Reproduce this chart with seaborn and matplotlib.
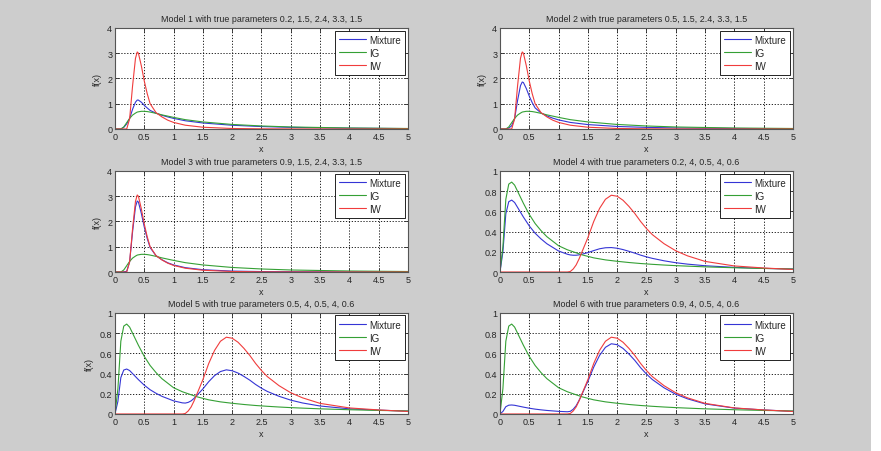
import matplotlib
matplotlib.use("Agg")
import matplotlib.pyplot as plt
from matplotlib.patches import Rectangle
from matplotlib.ticker import FormatStrFormatter
import seaborn as sns

# models 1-3: x grid and curves
x_a = [0, 0.1, 0.15, 0.2, 0.25, 0.3, 0.35, 0.38, 0.4, 0.45, 0.5, 0.55, 0.6, 0.7, 0.8, 0.9,
       1.0, 1.2, 1.5, 2.0, 2.5, 3.0, 3.5, 4.0, 4.5, 5.0]
ig_a = [0, 0, 0.08, 0.25, 0.42, 0.55, 0.63, 0.67, 0.68, 0.70, 0.70, 0.69, 0.67, 0.62, 0.56, 0.51,
        0.46, 0.37, 0.28, 0.18, 0.12, 0.08, 0.06, 0.04, 0.03, 0.02]
iw_a = [0, 0, 0, 0, 0.4, 1.7, 2.8, 3.05, 3.0, 2.5, 1.9, 1.4, 1.0, 0.65, 0.48, 0.35,
        0.26, 0.15, 0.07, 0.02, 0.007, 0.003, 0.001, 0, 0, 0]
mix_1 = [0, 0, 0.064, 0.2, 0.416, 0.78, 1.064, 1.146, 1.144, 1.06, 0.94, 0.832, 0.736, 0.626, 0.544, 0.478,
         0.42, 0.326, 0.238, 0.148, 0.097, 0.065, 0.048, 0.032, 0.024, 0.016]
mix_2 = [0, 0, 0.04, 0.125, 0.41, 1.125, 1.715, 1.86, 1.84, 1.6, 1.3, 1.045, 0.835, 0.635, 0.52, 0.43,
         0.36, 0.26, 0.175, 0.10, 0.064, 0.042, 0.03, 0.02, 0.015, 0.01]
mix_3 = [0, 0, 0.008, 0.025, 0.40, 1.585, 2.58, 2.81, 2.77, 2.32, 1.78, 1.33, 0.967, 0.647, 0.488, 0.366,
         0.28, 0.172, 0.091, 0.036, 0.018, 0.011, 0.007, 0.004, 0.003, 0.002]

# models 4-6
x_b = [0, 0.05, 0.1, 0.15, 0.2, 0.25, 0.3, 0.4, 0.5, 0.6, 0.7, 0.8, 1.0, 1.15, 1.2, 1.25, 1.3, 1.35, 1.4,
       1.5, 1.6, 1.7, 1.8, 1.9, 2.0, 2.1, 2.2, 2.3, 2.4, 2.5, 2.6, 2.8, 3.0, 3.2, 3.5, 4.0, 4.5, 5.0]
ig_b = [0, 0.25, 0.72, 0.87, 0.89, 0.86, 0.80, 0.68, 0.57, 0.48, 0.41, 0.35, 0.26, 0.22, 0.21, 0.20, 0.19, 0.18, 0.17,
        0.155, 0.14, 0.13, 0.12, 0.113, 0.106, 0.10, 0.094, 0.089, 0.084, 0.08, 0.076, 0.069, 0.063, 0.058, 0.051, 0.042, 0.035, 0.03]
iw_b = [0, 0, 0, 0, 0, 0, 0, 0, 0, 0, 0, 0, 0, 0, 0.005, 0.03, 0.07, 0.13, 0.2,
        0.34, 0.5, 0.63, 0.72, 0.76, 0.75, 0.71, 0.65, 0.58, 0.5, 0.43, 0.37, 0.28, 0.21, 0.16, 0.105, 0.06, 0.04, 0.025]
mix_4 = [0, 0.2, 0.576, 0.696, 0.712, 0.688, 0.64, 0.544, 0.456, 0.384, 0.328, 0.28, 0.208, 0.176, 0.169, 0.166, 0.166, 0.17, 0.176,
         0.192, 0.212, 0.23, 0.24, 0.242, 0.235, 0.222, 0.205, 0.187, 0.167, 0.15, 0.135, 0.111, 0.092, 0.078, 0.062, 0.046, 0.036, 0.029]
mix_5 = [0, 0.125, 0.36, 0.435, 0.445, 0.43, 0.40, 0.34, 0.285, 0.24, 0.205, 0.175, 0.13, 0.11, 0.108, 0.115, 0.13, 0.155, 0.185,
         0.248, 0.32, 0.38, 0.42, 0.437, 0.428, 0.405, 0.372, 0.335, 0.292, 0.255, 0.223, 0.175, 0.137, 0.109, 0.079, 0.051, 0.038, 0.028]
mix_6 = [0, 0.025, 0.072, 0.087, 0.089, 0.086, 0.08, 0.068, 0.057, 0.048, 0.041, 0.035, 0.026, 0.022, 0.026, 0.047, 0.082, 0.135, 0.197,
         0.322, 0.464, 0.58, 0.66, 0.695, 0.686, 0.649, 0.594, 0.531, 0.458, 0.395, 0.341, 0.259, 0.195, 0.15, 0.1, 0.058, 0.04, 0.026]

titles = ["Model 1 with true parameters 0.2, 1.5, 2.4, 3.3, 1.5",
          "Model 2 with true parameters 0.5, 1.5, 2.4, 3.3, 1.5",
          "Model 3 with true parameters 0.9, 1.5, 2.4, 3.3, 1.5",
          "Model 4 with true parameters 0.2, 4, 0.5, 4, 0.6",
          "Model 5 with true parameters 0.5, 4, 0.5, 4, 0.6",
          "Model 6 with true parameters 0.9, 4, 0.5, 4, 0.6"]
series_labels = ["Mixture", "IG", "IW"]
x_ticks = [0, 0.5, 1, 1.5, 2, 2.5, 3, 3.5, 4, 4.5, 5]

colors = ["#3535d5", "#35a035", "#f03c3c"]

sns.set_style("ticks")
plt.rcParams["font.family"] = ["Liberation Sans", "DejaVu Sans"]
plt.rcParams["font.size"] = 6

fig = plt.figure(figsize=(8.81, 4.52), dpi=100, facecolor="#cdcdcd")
fig.patches.append(Rectangle((0.9886, 0), 0.0114, 1, transform=fig.transFigure,
                             facecolor="white", edgecolor="none", zorder=0))

lefts = [0.1305, 0.5675]
bottoms = [0.7124, 0.396, 0.0819]
w, h = 0.3326, 0.2235

models = [
    (x_a, [mix_1, ig_a, iw_a], 4, True),
    (x_a, [mix_2, ig_a, iw_a], 4, True),
    (x_a, [mix_3, ig_a, iw_a], 4, True),
    (x_b, [mix_4, ig_b, iw_b], 1, False),
    (x_b, [mix_5, ig_b, iw_b], 1, True),
    (x_b, [mix_6, ig_b, iw_b], 1, False),
]

for i, (xs, curves, ymax, show_ylabel) in enumerate(models):
    row, col = i // 2, i % 2
    ax = fig.add_axes([lefts[col], bottoms[row], w, h])
    ax.set_facecolor("white")
    for ys, c, lab in zip(curves, colors, series_labels):
        sns.lineplot(x=xs, y=ys, ax=ax, color=c, linewidth=0.8, label=lab)
    ax.set_xlim(0, 5)
    ax.set_ylim(0, ymax)
    ax.set_xticks(x_ticks)
    ax.xaxis.set_major_formatter(FormatStrFormatter("%g"))
    if ymax == 4:
        ax.set_yticks([0, 1, 2, 3, 4])
    else:
        ax.set_yticks([0, 0.2, 0.4, 0.6, 0.8, 1])
    ax.yaxis.set_major_formatter(FormatStrFormatter("%g"))
    ax.grid(True, linestyle=(0, (1.5, 2)), color="black", linewidth=0.6)
    ax.tick_params(direction="in", length=3, width=0.6, labelsize=6.5, pad=2,
                   top=True, right=True)
    for s in ax.spines.values():
        s.set_color("#555555")
        s.set_linewidth(0.8)
    ax.set_title(titles[i], fontsize=6.4, pad=5)
    ax.set_xlabel("x", fontsize=6.5, labelpad=2.5)
    ax.set_ylabel("f(x)" if show_ylabel else "", fontsize=6.5, labelpad=4)
    leg = ax.legend(loc="upper right", fontsize=7, frameon=True, fancybox=False,
                    framealpha=1, edgecolor="black", borderaxespad=0.26,
                    handlelength=2.8, handletextpad=0.3, labelspacing=0.3,
                    borderpad=0.45)
    leg.get_frame().set_linewidth(0.6)

fig.savefig("out.png", dpi=100, facecolor=fig.get_facecolor())
